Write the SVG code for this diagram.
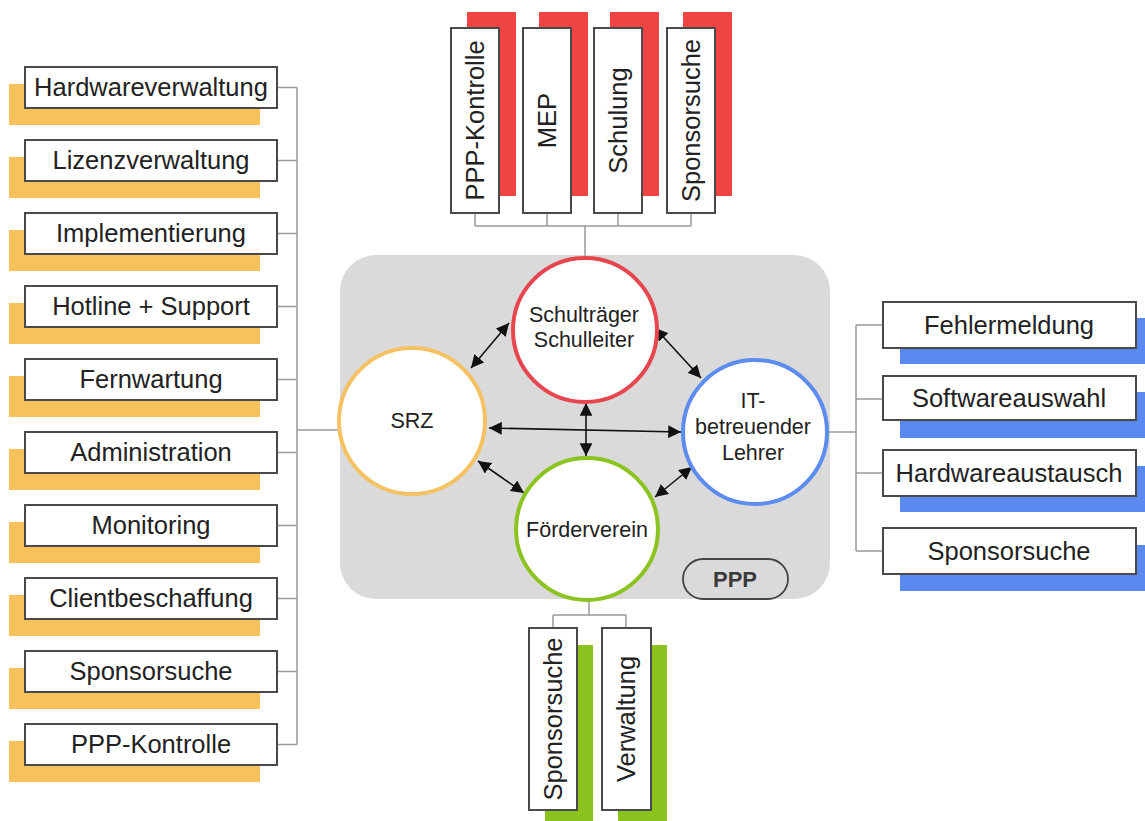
<svg xmlns="http://www.w3.org/2000/svg" width="1145" height="821" viewBox="0 0 1145 821">
<style>
.box{fill:#fff;stroke:#4a4a4a;stroke-width:2}
.t{font-family:"Liberation Sans",Arial,sans-serif;font-size:25.5px;fill:#222;text-anchor:middle}
.c{font-family:"Liberation Sans",Arial,sans-serif;font-size:21.5px;fill:#222;text-anchor:middle}
.or{fill:#F8C25A}
.rd{fill:#F04444}
.bl{fill:#5A8AF0}
.gr{fill:#8CC21E}
.con{fill:none;stroke:#9a9a9a;stroke-width:1.5}
.arr{fill:none;stroke:#111;stroke-width:1.6;marker-start:url(#ah);marker-end:url(#ah)}
.circ{fill:#fff;stroke-width:4}
</style>
<defs>
<marker id="ah" viewBox="0 0 10 10" refX="10" refY="5" markerWidth="8" markerHeight="8" markerUnits="strokeWidth" orient="auto-start-reverse">
<path d="M0,0 L10,5 L0,10 z" fill="#111"/>
</marker>
</defs>
<rect width="1145" height="821" fill="#fff"/>

<g id="ppp-area">
<rect x="340" y="255" width="490" height="344" rx="36" fill="#DADADA"/>
<rect x="683" y="559" width="105" height="40" rx="20" fill="none" stroke="#444" stroke-width="1.8"/>
<text x="735" y="587" class="c" style="font-size:22px;font-weight:bold;fill:#3a3a3a">PPP</text>
</g>

<g id="connectors">
<path class="con" d="M277,87.5 H297 M277,160.5 H297 M277,233.5 H297 M277,306.5 H297 M277,379.5 H297 M277,452.5 H297 M277,525.5 H297 M277,598.5 H297 M277,671.5 H297 M277,744.5 H297 M297,87.5 V744.5 M297,430 H339"/>
<path class="con" d="M475,213 V226 M547,213 V226 M618,213 V226 M691,213 V226 M475,226 H691 M585,226 V258"/>
<path class="con" d="M828,432 H856 M856,325 V551 M856,325 H883 M856,399 H883 M856,473 H883 M856,551 H883"/>
<path class="con" d="M589,601 V615 M553,615 H626 M553,615 V628 M626,615 V628"/>
<line class="arr" x1="471" y1="368" x2="509" y2="323"/>
<line class="arr" x1="655" y1="328" x2="701" y2="378"/>
<line class="arr" x1="489" y1="428" x2="681" y2="432"/>
<line class="arr" x1="586" y1="403" x2="586" y2="456"/>
<line class="arr" x1="478" y1="461" x2="524" y2="493"/>
<line class="arr" x1="692" y1="467" x2="655" y2="497"/>
</g>

<g id="schultraeger">
<circle class="circ" cx="585" cy="330" r="72" stroke="#E8464E"/>
<text class="c" x="584" y="322">Schulträger</text>
<text class="c" x="584" y="347">Schulleiter</text>
</g>
<g id="srz">
<circle class="circ" cx="412" cy="421" r="73" stroke="#F4C262"/>
<text class="c" x="412" y="428">SRZ</text>
</g>
<g id="it-lehrer">
<circle class="circ" cx="755" cy="432" r="72" stroke="#5C8CEF"/>
<text class="c" x="753" y="408">IT-</text>
<text class="c" x="753" y="434">betreuender</text>
<text class="c" x="753" y="460">Lehrer</text>
</g>
<g id="foerderverein">
<circle class="circ" cx="587" cy="529" r="71" stroke="#8BC420"/>
<text class="c" x="587" y="537">Förderverein</text>
</g>

<g id="l1"><rect class="or" x="9" y="84" width="251" height="41"/><rect class="box" x="25" y="67" width="252" height="41"/><text class="t" x="151" y="96">Hardwareverwaltung</text></g>
<g id="l2"><rect class="or" x="9" y="157" width="251" height="41"/><rect class="box" x="25" y="140" width="252" height="41"/><text class="t" x="151" y="169">Lizenzverwaltung</text></g>
<g id="l3"><rect class="or" x="9" y="230" width="251" height="41"/><rect class="box" x="25" y="213" width="252" height="41"/><text class="t" x="151" y="242">Implementierung</text></g>
<g id="l4"><rect class="or" x="9" y="303" width="251" height="41"/><rect class="box" x="25" y="286" width="252" height="41"/><text class="t" x="151" y="315">Hotline + Support</text></g>
<g id="l5"><rect class="or" x="9" y="376" width="251" height="41"/><rect class="box" x="25" y="359" width="252" height="41"/><text class="t" x="151" y="388">Fernwartung</text></g>
<g id="l6"><rect class="or" x="9" y="449" width="251" height="41"/><rect class="box" x="25" y="432" width="252" height="41"/><text class="t" x="151" y="461">Administration</text></g>
<g id="l7"><rect class="or" x="9" y="522" width="251" height="41"/><rect class="box" x="25" y="505" width="252" height="41"/><text class="t" x="151" y="534">Monitoring</text></g>
<g id="l8"><rect class="or" x="9" y="595" width="251" height="41"/><rect class="box" x="25" y="578" width="252" height="41"/><text class="t" x="151" y="607">Clientbeschaffung</text></g>
<g id="l9"><rect class="or" x="9" y="668" width="251" height="41"/><rect class="box" x="25" y="651" width="252" height="41"/><text class="t" x="151" y="680">Sponsorsuche</text></g>
<g id="l10"><rect class="or" x="9" y="741" width="251" height="41"/><rect class="box" x="25" y="724" width="252" height="41"/><text class="t" x="151" y="753">PPP-Kontrolle</text></g>

<g id="t1"><rect class="rd" x="467" y="12" width="49" height="184"/><rect class="box" x="451" y="28" width="48" height="185"/><text class="t" transform="translate(484,120.5) rotate(-90)">PPP-Kontrolle</text></g>
<g id="t2"><rect class="rd" x="539" y="12" width="49" height="184"/><rect class="box" x="523" y="28" width="48" height="185"/><text class="t" transform="translate(556,120.5) rotate(-90)">MEP</text></g>
<g id="t3"><rect class="rd" x="610" y="12" width="49" height="184"/><rect class="box" x="594" y="28" width="48" height="185"/><text class="t" transform="translate(627,120.5) rotate(-90)">Schulung</text></g>
<g id="t4"><rect class="rd" x="683" y="12" width="49" height="184"/><rect class="box" x="667" y="28" width="48" height="185"/><text class="t" transform="translate(700,120.5) rotate(-90)">Sponsorsuche</text></g>

<g id="r1"><rect class="bl" x="900" y="318" width="253" height="46"/><rect class="box" x="883" y="302" width="253" height="46"/><text class="t" x="1009" y="334">Fehlermeldung</text></g>
<g id="r2"><rect class="bl" x="900" y="392" width="253" height="46"/><rect class="box" x="883" y="376" width="253" height="44"/><text class="t" x="1009" y="407">Softwareauswahl</text></g>
<g id="r3"><rect class="bl" x="900" y="466" width="253" height="46"/><rect class="box" x="883" y="450" width="253" height="46"/><text class="t" x="1009" y="482">Hardwareaustausch</text></g>
<g id="r4"><rect class="bl" x="900" y="545" width="253" height="46"/><rect class="box" x="883" y="528" width="253" height="46"/><text class="t" x="1009" y="560">Sponsorsuche</text></g>

<g id="b1"><rect class="gr" x="545" y="645" width="48" height="185"/><rect class="box" x="529" y="628" width="48" height="182"/><text class="t" transform="translate(562,719) rotate(-90)">Sponsorsuche</text></g>
<g id="b2"><rect class="gr" x="618" y="645" width="49" height="185"/><rect class="box" x="602" y="628" width="49" height="182"/><text class="t" transform="translate(635,719) rotate(-90)">Verwaltung</text></g>
</svg>
